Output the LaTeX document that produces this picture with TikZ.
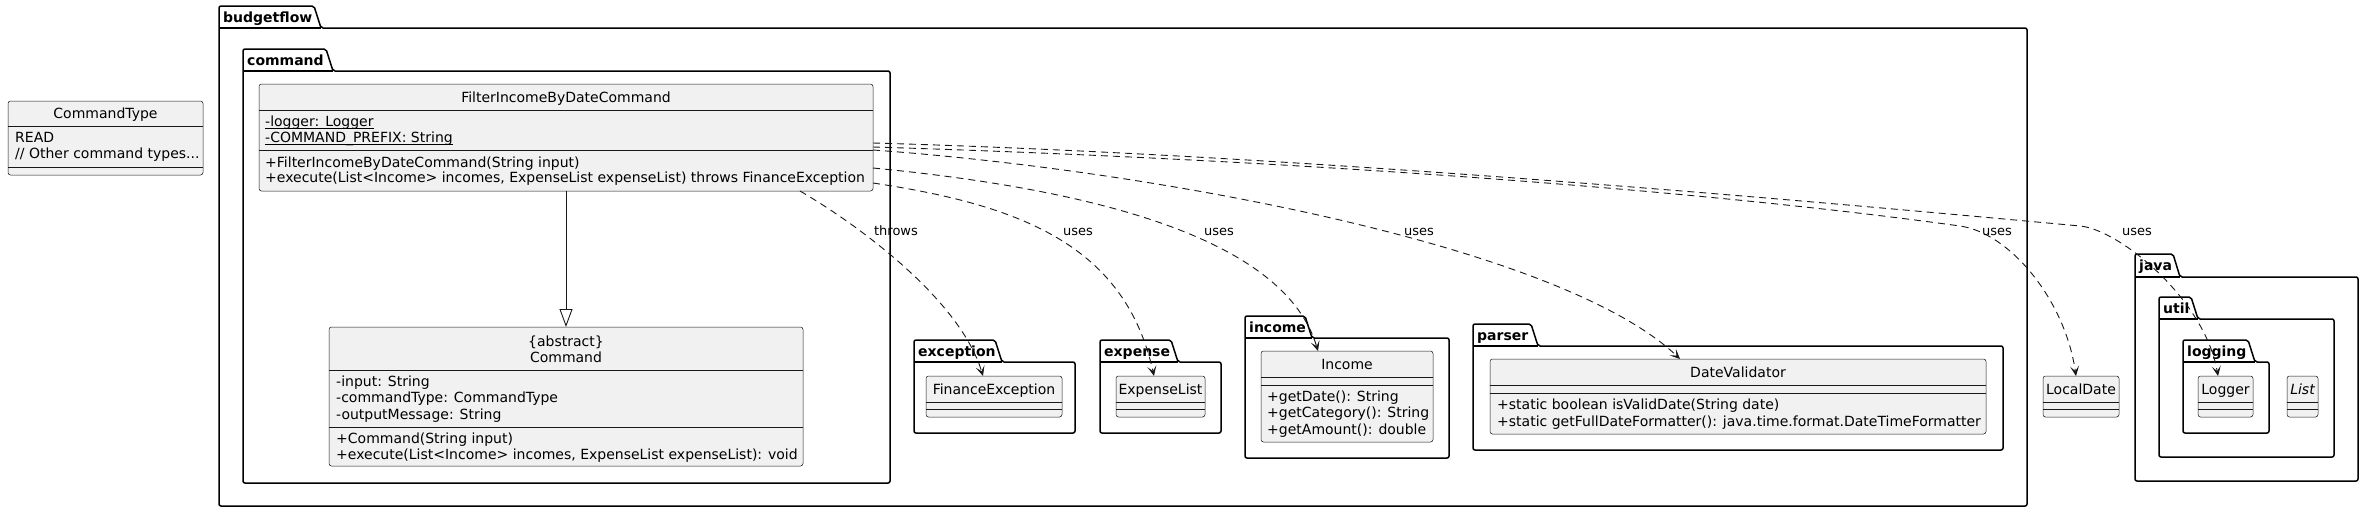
\documentclass[tikz,border=0pt]{standalone}
\usepackage{fontspec}
\setmainfont{DejaVu Sans}
\usetikzlibrary{arrows.meta}
\definecolor{cdark}{HTML}{181818}
\definecolor{cfill}{HTML}{F1F1F1}
\newcommand\umlcls[5]{%
  \node[cls, anchor=north west, minimum width={#4-#2}, minimum height={#5-#3}] (#1) at (#2,#3) {};}
\newcommand\csep[2]{\draw[sepline] (#1.west |- 0,#2) -- (#1.east |- 0,#2);}
\newcommand\pkgfolder[8]{%
  \draw[pkg] (#2,#4) -- (#2,#3) -- ({#5-7},#3) -- (#5,#4) -- (#6,#4) -- (#6,#7) -- (#2,#7) -- cycle;
  \draw[pkg] (#2,#4) -- (#5,#4);
  \node[pkglabel] (#1) at ({#2+4},{(#3+#4)/2+5}) {#8};}
\newcommand\staticul[1]{\underline{\smash{#1}}}
\begin{document}
\begin{tikzpicture}[x=1pt,y=-1pt,
  font=\fontsize{14}{16.3}\selectfont,
  cls/.style={draw=cdark, fill=cfill, line width=0.5pt, rounded corners=2.5pt, inner sep=0pt, outer sep=0pt},
  sepline/.style={draw=cdark, line width=0.5pt},
  pkg/.style={draw=black, line width=1.5pt, rounded corners=2pt},
  pkglabel/.style={font=\fontsize{14}{16.3}\selectfont\bfseries, anchor=base west, inner sep=0pt},
  txt/.style={anchor=base west, inner sep=0pt},
  ctxt/.style={anchor=base, inner sep=0pt},
  lbl/.style={anchor=base, inner sep=0pt, font=\fontsize{13}{15}\selectfont},
  dep/.style={draw=cdark, line width=0.9pt, dash pattern=on 7pt off 5pt, -{Stealth[length=10pt,width=9pt,inset=5pt]}},
  gen/.style={draw=cdark, line width=0.9pt, -{Triangle[open, length=18pt, width=13pt]}}
]
\fill[white] (0,0) rectangle (2364,512);
\useasboundingbox (0,0) rectangle (2364,512);

% packages
\pkgfolder{pbf}{219}{6}{28}{321}{2027}{506}{budgetflow}
\pkgfolder{pcmd}{243}{49}{71}{333}{890}{483}{command}
\pkgfolder{pexc}{914}{340}{362}{1002}{1075}{433}{exception}
\pkgfolder{pexp}{1100}{340}{362}{1178}{1221}{433}{expense}
\pkgfolder{pinc}{1245}{316}{338}{1312}{1449}{458}{income}
\pkgfolder{ppar}{1473}{324}{346}{1538}{2003}{450}{parser}
\pkgfolder{pjava}{2135}{254}{277}{2180}{2358}{481}{java}
\pkgfolder{putil}{2159}{297}{319}{2198}{2334}{457}{util}
\pkgfolder{plog}{2183}{340}{362}{2255}{2269}{433}{logging}

% CommandType
\umlcls{ct}{8}{101}{203}{175}
\node[ctxt] (ctn) at (ct.north |- 0,118) {CommandType};
\csep{ct}{126}\csep{ct}{167}
\node[txt] (ct1) at (15,142) {READ};
\node[txt] (ct2) at (15,158.5) {// Other command types...};

% FilterIncomeByDateCommand
\umlcls{filter}{259}{84}{873}{191}
\node[ctxt] (fn) at (filter.north |- 0,102) {FilterIncomeByDateCommand};
\csep{filter}{110.5}\csep{filter}{150.5}
\node[txt] (f1) at (265,126.5) {\staticul{-logger: Logger}};
\node[txt] (f2) at (265,142.5) {\staticul{-COMMAND\_PREFIX: String}};
\node[txt] (f3) at (265,167) {+FilterIncomeByDateCommand(String input)};
\node[txt] (f4) at (265,182.5) {+execute(List<Income> incomes, ExpenseList expenseList) throws FinanceException};

% Command
\umlcls{cmd}{329}{327}{803}{466}
\node[ctxt] (cn1) at (cmd.north |- 0,346) {\{abstract\}};
\node[ctxt] (cn2) at (cmd.north |- 0,362) {Command};
\csep{cmd}{370}\csep{cmd}{427}
\node[txt] (c1) at (336,386) {-input: String};
\node[txt] (c2) at (336,402.5) {-commandType: CommandType};
\node[txt] (c3) at (336,419) {-outputMessage: String};
\node[txt] (c4) at (336,443) {+Command(String input)};
\node[txt] (c5) at (336,459.5) {+execute(List<Income> incomes, ExpenseList expenseList): void};

% FinanceException
\umlcls{fe}{926}{376}{1062}{417}
\node[ctxt] (fen) at (fe.north |- 0,394) {FinanceException};
\csep{fe}{402}\csep{fe}{409}

% ExpenseList
\umlcls{el}{1116}{376}{1205}{417}
\node[ctxt] (eln) at (el.north |- 0,394) {ExpenseList};
\csep{el}{402}\csep{el}{409}

% Income
\umlcls{inc}{1261}{351}{1433}{442}
\node[ctxt] (incn) at (inc.north |- 0,369) {Income};
\csep{inc}{377}\csep{inc}{385}
\node[txt] (i1) at (1267,401) {+getDate(): String};
\node[txt] (i2) at (1267,417.5) {+getCategory(): String};
\node[txt] (i3) at (1267,434) {+getAmount(): double};

% DateValidator
\umlcls{dv}{1490}{359}{1986}{434}
\node[ctxt] (dvn) at (dv.north |- 0,377) {DateValidator};
\csep{dv}{385}\csep{dv}{393}
\node[txt] (d1) at (1497,409.5) {+static boolean isValidDate(String date)};
\node[txt] (d2) at (1497,426) {+static getFullDateFormatter(): java.time.format.DateTimeFormatter};

% LocalDate
\umlcls{ld}{2043}{376}{2119}{417}
\node[ctxt] (ldn) at (ld.north |- 0,394) {LocalDate};
\csep{ld}{402}\csep{ld}{409}

% Logger
\umlcls{lg}{2198}{376}{2253}{417}
\node[ctxt] (lgn) at (lg.north |- 0,394) {Logger};
\csep{lg}{402}\csep{lg}{409}

% List
\umlcls{ls}{2287}{376}{2318}{417}
\node[ctxt] (lsn) at (ls.north |- 0,394) {\itshape List};
\csep{ls}{402}\csep{ls}{409}

% generalization
\draw[gen] (filter.south) -- (cmd.north);

% dependencies
\draw[dep] (filter.south -| 800,0) .. controls (860,226) and (960,300) .. (fe.north -| 983,0);
\draw[dep] (filter.east |- 0,183) .. controls (1020,205) and (1125,245) .. (el.north -| 1154,0);
\draw[dep] (filter.east |- 0,168) .. controls (1100,190) and (1285,240) .. (inc.north -| 1318,0);
\draw[dep] (filter.east |- 0,150) .. controls (1150,170) and (1560,245) .. (dv.north -| 1680,0);
\draw[dep] (filter.east |- 0,147) .. controls (1300,160) and (1700,190) .. (1960,226) .. controls (2010,233) and (2065,300) .. (ld.north -| 2076,0);
\draw[dep] (filter.east |- 0,143) .. controls (1300,155) and (1800,200) .. (2080,226) .. controls (2120,229.7) and (2205,300) .. (lg.north -| 2218,0);

% labels
\node[lbl] (l1) at (896,235.5) {throws};
\node[lbl] (l2) at (1078,235.5) {uses};
\node[lbl] (l3) at (1219,235.5) {uses};
\node[lbl] (l4) at (1419,235.5) {uses};
\node[lbl] (l5) at (1997,235.5) {uses};
\node[lbl] (l6) at (2137,235.5) {uses};
\end{tikzpicture}
\end{document}
